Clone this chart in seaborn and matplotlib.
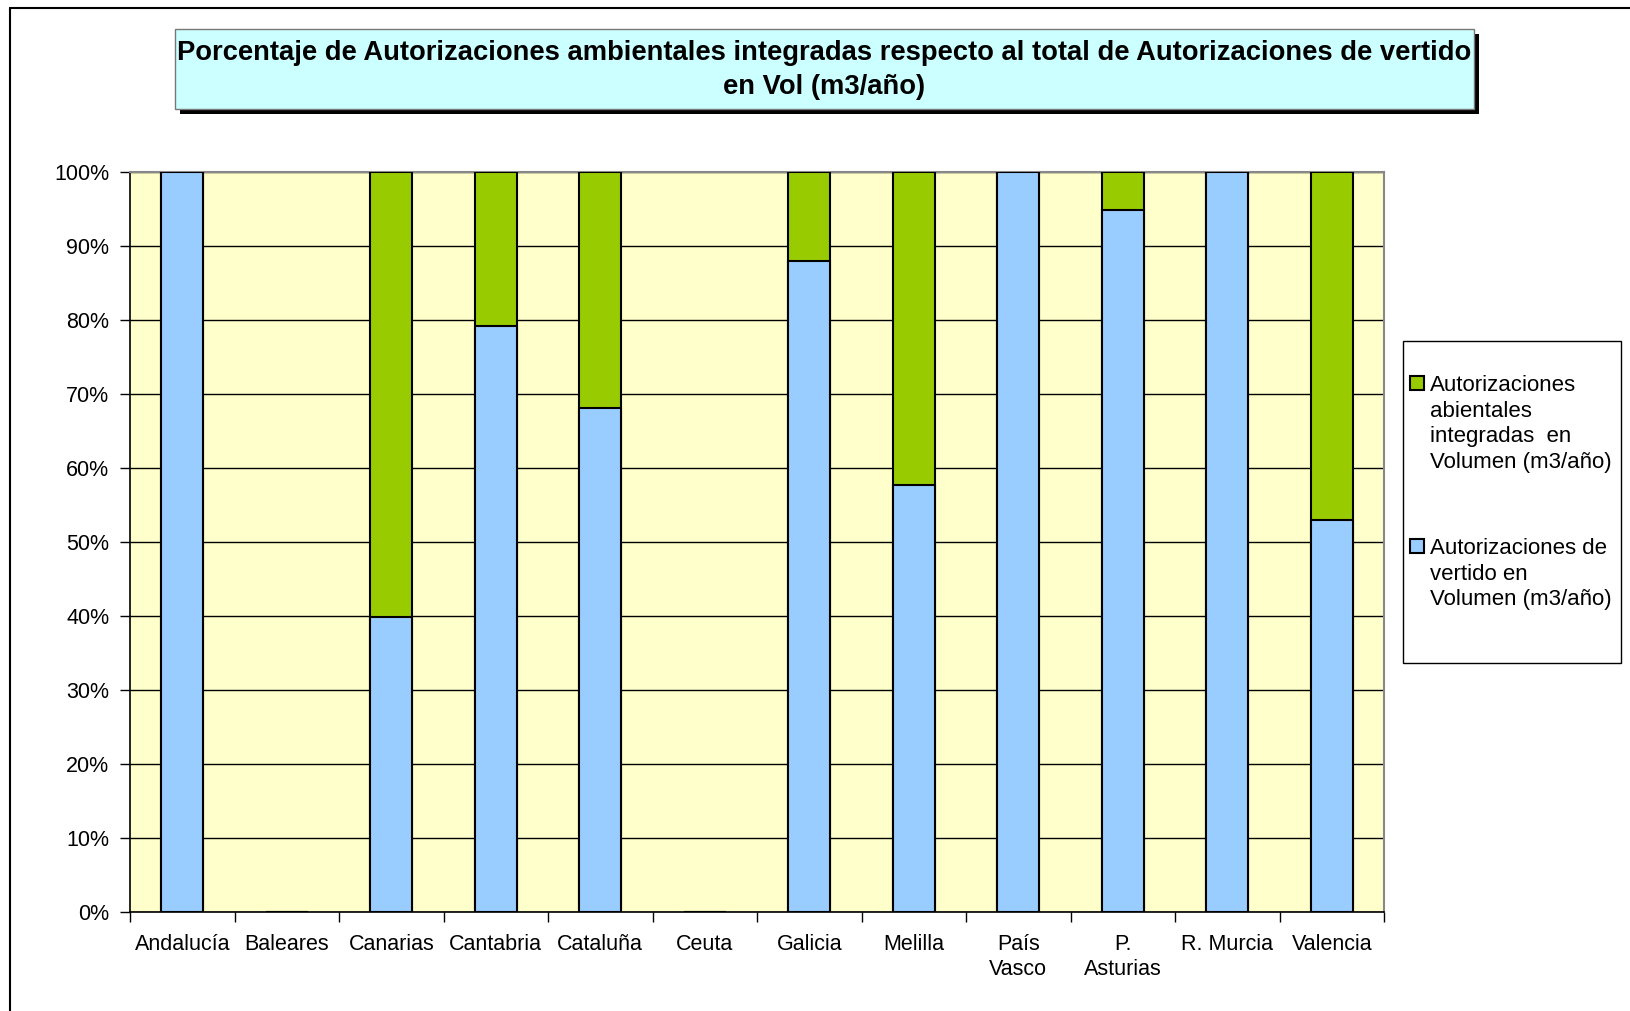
import matplotlib.pyplot as plt
import seaborn as sns
from matplotlib.patches import Rectangle
from matplotlib.lines import Line2D

regions = ["Andalucía", "Baleares", "Canarias", "Cantabria", "Cataluña", "Ceuta",
           "Galicia", "Melilla", "País\nVasco", "P.\nAsturias", "R. Murcia", "Valencia"]
# % del volumen: autorizaciones de vertido / autorizaciones ambientales integradas
vertido = [100, 0, 39.9, 79.2, 68.0, 0, 87.9, 57.7, 100, 94.8, 100, 52.9]
integradas = [0, 0, 60.1, 20.8, 32.0, 0, 12.1, 42.3, 0, 5.2, 0, 47.1]
yticks = list(range(0, 101, 10))

blue = "#99CCFF"
green = "#99CC00"

sns.set_style("white")
plt.rcParams["font.family"] = ["Liberation Sans", "DejaVu Sans"]
plt.rcParams["text.color"] = "black"
plt.rcParams["xtick.color"] = "black"
plt.rcParams["ytick.color"] = "black"
plt.rcParams["xtick.labelcolor"] = "black"
plt.rcParams["ytick.labelcolor"] = "black"

W, H = 1630, 1011
fig = plt.figure(figsize=(W / 100, H / 100), dpi=100)

def fx(px):
    return px / W

def fy(py):
    return 1 - py / H

ax = fig.add_axes([fx(130), fy(912), fx(1384) - fx(130), fy(171.5) - fy(912)])
ax.set_facecolor("#FFFFCC")

totals = [v + g for v, g in zip(vertido, integradas)]
sns.barplot(x=regions, y=totals, color=green, width=0.4, edgecolor="black",
            linewidth=1.5, saturation=1, ax=ax, zorder=3)
sns.barplot(x=regions, y=vertido, color=blue, width=0.4, edgecolor="black",
            linewidth=1.5, saturation=1, ax=ax, zorder=3)

ax.set_ylim(0, 100)
ax.set_xlim(-0.5, len(regions) - 0.5)
ax.set_yticks(yticks)
ax.set_yticklabels([f"{t}%" for t in yticks])
ax.yaxis.grid(True, color="black", linewidth=1)
ax.set_axisbelow(True)
ax.set_xlabel("")
ax.set_ylabel("")

ax.set_xticks(range(len(regions)))
ax.set_xticklabels(regions, linespacing=1.25)
ax.set_xticks([i - 0.5 for i in range(len(regions) + 1)], minor=True)
ax.tick_params(axis="x", which="major", length=0, pad=16, labelsize=15.5)
ax.tick_params(axis="x", which="minor", length=7, width=1, direction="out",
               color="black", bottom=True)
ax.tick_params(axis="y", length=7, width=1, direction="out", color="black",
               left=True, pad=8, labelsize=15.5)

for s in ["left", "bottom"]:
    ax.spines[s].set_color("black")
    ax.spines[s].set_linewidth(1.2)
for s in ["top", "right"]:
    ax.spines[s].set_color("#888888")
    ax.spines[s].set_linewidth(1.5)

# outer frame (left and top edges)
fig.add_artist(Line2D([fx(10), fx(10)], [fy(8), 0], color="black", lw=1.5))
fig.add_artist(Line2D([fx(10), 1], [fy(8), fy(8)], color="black", lw=1.5))

# title box with shadow
fig.add_artist(Rectangle((fx(180), fy(114)), fx(1474) - fx(175), fy(29) - fy(109),
                         facecolor="black", edgecolor="none"))
fig.add_artist(Rectangle((fx(175), fy(109)), fx(1474) - fx(175), fy(29) - fy(109),
                         facecolor="#CCFFFF", edgecolor="#777777", lw=1))
fig.text(fx(824), fy(70),
         "Porcentaje de Autorizaciones ambientales integradas respecto al total de Autorizaciones de vertido\nen Vol (m3/año)",
         ha="center", va="center", fontsize=19.7, fontweight="bold", linespacing=1.42)

# legend
fig.add_artist(Rectangle((fx(1403), fy(663)), fx(1621) - fx(1403), fy(341) - fy(663),
                         facecolor="white", edgecolor="black", lw=1))
legend_items = [
    (green, "Autorizaciones\nabientales\nintegradas  en\nVolumen (m3/año)", 376),
    (blue, "Autorizaciones de\nvertido en\nVolumen (m3/año)", 539),
]
for col, lab, top in legend_items:
    fig.add_artist(Rectangle((fx(1410), fy(top + 14)), fx(14), 14 / H,
                             facecolor=col, edgecolor="black", lw=1.5))
    fig.text(fx(1430), fy(top - 1), lab, ha="left", va="top", fontsize=16,
             linespacing=1.29)

fig.savefig("out.png", dpi=100)
